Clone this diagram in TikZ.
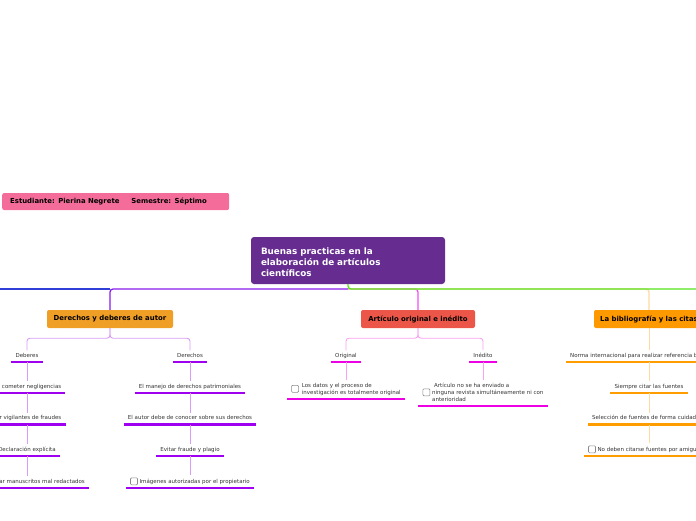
\documentclass[tikz,border=0pt]{standalone}
\usepackage{fontspec}
\setmainfont{DejaVu Sans}
\usepackage{xcolor}
\usepackage{tikz}
\usetikzlibrary{positioning, calc}
\definecolor{MapPurple}{HTML}{662C90}
\definecolor{MapPink}{HTML}{F46D9A}
\definecolor{MapAmber}{HTML}{F09F26}
\definecolor{MapRed}{HTML}{EB5648}
\definecolor{MapOrange}{HTML}{FF9900}
\definecolor{MapBlue}{HTML}{2F3FD8}
\definecolor{MapViolet}{HTML}{8A1AEB}
\definecolor{MapGreen}{HTML}{55E31A}
\definecolor{VioLine}{HTML}{D79CF5}
\definecolor{VioBar}{HTML}{A000F0}
\definecolor{MagStem}{HTML}{F050EE}
\definecolor{MagLine}{HTML}{F7A2F2}
\definecolor{MagBar}{HTML}{EE00E4}
\definecolor{OraLine}{HTML}{FFD9A3}
\definecolor{OraBar}{HTML}{FF9D00}
\definecolor{leafText}{HTML}{333333}
\definecolor{boxGray}{HTML}{8A8A8A}
\newcommand{\chk}[1][0pt]{\raisebox{#1}{\tikz[x=1pt,y=1pt,baseline=0pt]\draw[boxGray, line width=.6pt, rounded corners=1pt, fill=white] (0,-1.5) rectangle (7,5.5);}}

\begin{document}
\begin{tikzpicture}[x=1pt, y=-1pt, font=\fontsize{5.5}{7}\selectfont,
  topic/.style={rounded corners=2pt, text=black, font=\bfseries\fontsize{6.9}{8}\selectfont, minimum height=18pt, inner xsep=0pt},
  leaf/.style={text=leafText, anchor=south, inner xsep=4pt, inner ysep=2.5pt, text depth=2pt,
    append after command={(\tikzlastnode.south west) edge[draw=#1, line width=2.2pt] (\tikzlastnode.south east)}},
  link/.style={line width=.9pt, rounded corners=3pt}]
  \clip (0,0) rectangle (696,520);
  % student and main topic
  \node[fill=MapPink, rounded corners=2pt, text width=211pt, inner xsep=8pt, minimum height=17pt, align=left, anchor=west,
    font=\bfseries\fontsize{6.9}{8}\selectfont] (student) at (2,201.5) {Estudiante: Pierina Negrete\hspace{12pt}Semestre: Séptimo};
  \node[fill=MapPurple, text=white, rounded corners=3pt, text width=174pt, inner xsep=10pt, minimum height=47pt, align=left,
    font=\bfseries\fontsize{8.8}{11}\selectfont] (cen) at (348,260.5) {\rule{0pt}{10.5pt}Buenas practicas en la\\elaboración de artículos\\científicos};
  % three branches
  \node[topic, fill=MapAmber, minimum width=126pt] (t1) at (110,319) {Derechos y deberes de autor};
  \node[topic, fill=MapRed, minimum width=114pt] (t2) at (418,319) {Artículo original e inédito};
  \node[topic, fill=MapOrange, minimum width=110pt] (t3) at (649,319) {La bibliografía y las citas};
  % bus line under the main topic
  \coordinate (bus) at (348,289);
  \coordinate (busL) at (0,289);
  \coordinate (busR) at (696,289);
  \draw[link, line width=1.3pt, MapViolet] (bus) -| (t1.north);
  \draw[link, line width=1.3pt, MapBlue] (busL) -- (t1.north |- bus);
  \draw[link, line width=1.3pt, MagStem] (bus) -| (t2.north);
  \draw[link, line width=1.3pt, OraLine] (bus) -| (t3.north);
  \draw[link, line width=1.3pt, MapGreen] (cen.south) |- (busR);
  % deberes
  \node[leaf=VioBar] (deb) at (27,362) {Deberes};
  \node[leaf=VioBar] (deb1) at (27,393) {No cometer negligencias};
  \node[leaf=VioBar] (deb2) at (27,424.5) {Ser vigilantes de fraudes};
  \node[leaf=VioBar] (deb3) at (27,456) {Declaración explícita};
  \node[leaf=VioBar] (deb4) at (27,488) {No presentar manuscritos mal redactados};
  % derechos
  \node[leaf=VioBar] (der) at (190,362) {Derechos};
  \node[leaf=VioBar] (der1) at (190,393) {El manejo de derechos patrimoniales};
  \node[leaf=VioBar] (der2) at (190,424.5) {El autor debe de conocer sobre sus derechos};
  \node[leaf=VioBar] (der3) at (190,456) {Evitar fraude y plagio};
  \node[leaf=VioBar] (der4) at (190,488) {\chk\ Imágenes autorizadas por el propietario};
  \draw[link, VioLine] (t1.south) -- ++(0,10) -| (deb.north);
  \draw[link, VioLine] (t1.south) -- ++(0,10) -| (der.north);
  \draw[line width=.9pt, VioLine] (deb.south) -- (deb1.north) (deb1.south) -- (deb2.north)
    (deb2.south) -- (deb3.north) (deb3.south) -- (deb4.north);
  \draw[line width=.9pt, VioLine] (der.south) -- (der1.north) (der1.south) -- (der2.north)
    (der2.south) -- (der3.north) (der3.south) -- (der4.north);
  % original / inedito
  \node[leaf=MagBar] (ori) at (346,362) {Original};
  \node[leaf=MagBar] (ine) at (483,362) {Inédito};
  \node[leaf=MagBar] (ori1) at (346,399) {\chk[3.5pt]\hspace{3pt}\begin{tabular}[b]{@{}l@{}}Los datos y el proceso de\\investigación es totalmente original\end{tabular}};
  \node[leaf=MagBar] (ine1) at (483,406) {\chk[7pt]\hspace{2pt}\begin{tabular}[b]{@{}l@{}}\hspace*{2pt}Artículo no se ha enviado a\\ninguna revista simultáneamente ni con\\anterioridad\end{tabular}};
  \draw[link, MagLine] (t2.south) -- ++(0,10) -| (ori.north);
  \draw[link, MagLine] (t2.south) -- ++(0,10) -| (ine.north);
  \draw[line width=.9pt, MagLine] (ori.south) -- (ori1.north) (ine.south) -- (ine1.north);
  % bibliografia
  \node[leaf=OraBar] (bib1) at (649,362) {Norma internacional para realizar referencia bibliográfica};
  \node[leaf=OraBar] (bib2) at (649,393) {Siempre citar las fuentes};
  \node[leaf=OraBar] (bib3) at (649,424.5) {Selección de fuentes de forma cuidadosa};
  \node[leaf=OraBar] (bib4) at (649,456) {\chk\ No deben citarse fuentes por amiguismo};
  \draw[line width=.9pt, OraLine] (t3.south) -- (bib1.north) (bib1.south) -- (bib2.north)
    (bib2.south) -- (bib3.north) (bib3.south) -- (bib4.north);
\end{tikzpicture}
\end{document}
